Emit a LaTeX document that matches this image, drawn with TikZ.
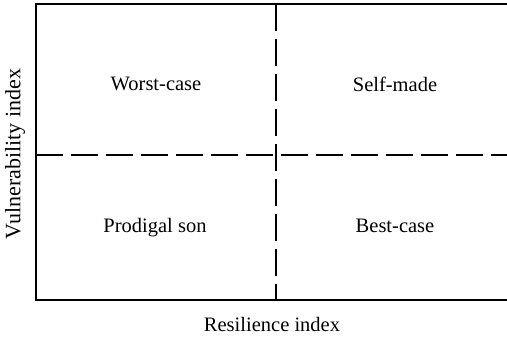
\documentclass[tikz,border=0pt]{standalone}
\usepackage{fontspec}
\setmainfont{Liberation Serif}
\begin{document}
\begin{tikzpicture}[x=1pt,y=-1pt,
  axis/.style={line width=1.6pt},
  divider/.style={line width=1.6pt, dash pattern=on 27pt off 8pt},
  lbl/.style={font=\fontsize{20.5}{22}\selectfont, inner sep=0pt}]
\useasboundingbox (0,0) rectangle (507,337);
\coordinate (tl) at (36,4);
\coordinate (tr) at (507,4);
\coordinate (bl) at (36,300);
\coordinate (br) at (507,300);
\coordinate (vt) at (276,4);
\coordinate (vb) at (276,300);
\coordinate (hl) at (36,155);
\coordinate (hr) at (507,155);
\draw[axis] (tr) -- (tl) -- (bl) -- (br);
\draw[divider] (vt) -- (vb);
\draw[divider] (hl) -- (hr);
\node[lbl] (wc) at (156,84) {Worst-case};
\node[lbl] (sm) at (395,84) {Self-made};
\node[lbl] (ps) at (155,228) {Prodigal son};
\node[lbl] (bc) at (395,226) {Best-case};
\node[lbl] (xl) at (272,324) {Resilience index};
\node[lbl, font=\fontsize{22}{24}\selectfont, rotate=90] (yl) at (15,154) {Vulnerability index};
\end{tikzpicture}
\end{document}
